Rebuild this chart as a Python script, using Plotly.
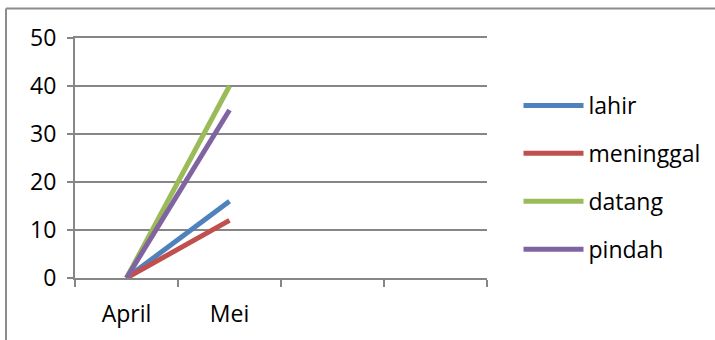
import plotly.graph_objects as go

# Data
months = ["April", "Mei"]
lahir = [0, 16]
meninggal = [0, 12]
datang = [0, 40]
pindah = [0, 35]

series_names = ["lahir", "meninggal", "datang", "pindah"]
series_values = [lahir, meninggal, datang, pindah]
series_colors = ["#4F81BD", "#C0504D", "#9BBB59", "#8064A2"]

y_ticks = [0, 10, 20, 30, 40, 50]
# four category slots on the x axis; only the first two hold data
n_slots = 4

W, H = 715, 340
L, R, T, B = 75, 487, 38, 278
FONT = "Open Sans"
FS = 23

fig = go.Figure()
x_pos = list(range(len(months)))
for name, vals, col in zip(series_names, series_values, series_colors):
    fig.add_trace(go.Scatter(
        x=x_pos, y=vals, name=name, mode="lines",
        line=dict(color=col, width=5),
        legendgroup=name,
    ))

axis_grey = "#868686"

fig.update_layout(
    width=W, height=H,
    margin=dict(l=L, r=W - R, t=T, b=H - B, pad=0, autoexpand=False),
    paper_bgcolor="white", plot_bgcolor="white",
    font=dict(family=FONT, size=FS, color="black"),
    showlegend=True,
    legend=dict(
        x=(518.5 - L) / (R - L), xanchor="left",
        y=(278 - 84) / (B - T), yanchor="top",
        bgcolor="rgba(0,0,0,0)",
        font=dict(family=FONT, size=FS),
        itemwidth=60,
        tracegroupgap=15,
    ),
    xaxis=dict(
        range=[-0.5, n_slots - 0.5],
        tickmode="array", tickvals=x_pos, ticktext=months,
        ticks="", showgrid=False, zeroline=False,
        showline=True, linecolor=axis_grey, linewidth=2,
        mirror=True,
        minor=dict(tickmode="array",
                   tickvals=[i - 0.5 for i in range(n_slots + 1)],
                   ticks="outside", ticklen=7, tickwidth=2,
                   tickcolor=axis_grey, showgrid=False),
        tickfont=dict(family=FONT, size=FS),
        ticklabelstandoff=14,
    ),
    yaxis=dict(
        range=[0, 50], tickmode="array", tickvals=y_ticks,
        ticks="outside", ticklen=6, tickwidth=2, tickcolor=axis_grey,
        showgrid=True, gridcolor=axis_grey, gridwidth=2,
        zeroline=False, showline=True, linecolor=axis_grey, linewidth=2,
        tickfont=dict(family=FONT, size=FS),
        ticklabelstandoff=6,
    ),
)

# outer chart frame (top and left edges)
def px_x(p):
    return (p - L) / (R - L)

def px_y(p):
    return (B - p) / (B - T)

frame = dict(color="#8C8C8C", width=2)
fig.add_shape(type="line", xref="paper", yref="paper",
              x0=px_x(6), x1=px_x(716), y0=px_y(8.5), y1=px_y(8.5), line=frame)
fig.add_shape(type="line", xref="paper", yref="paper",
              x0=px_x(6), x1=px_x(6), y0=px_y(8.5), y1=px_y(341), line=frame)

fig.write_html("out.html")
